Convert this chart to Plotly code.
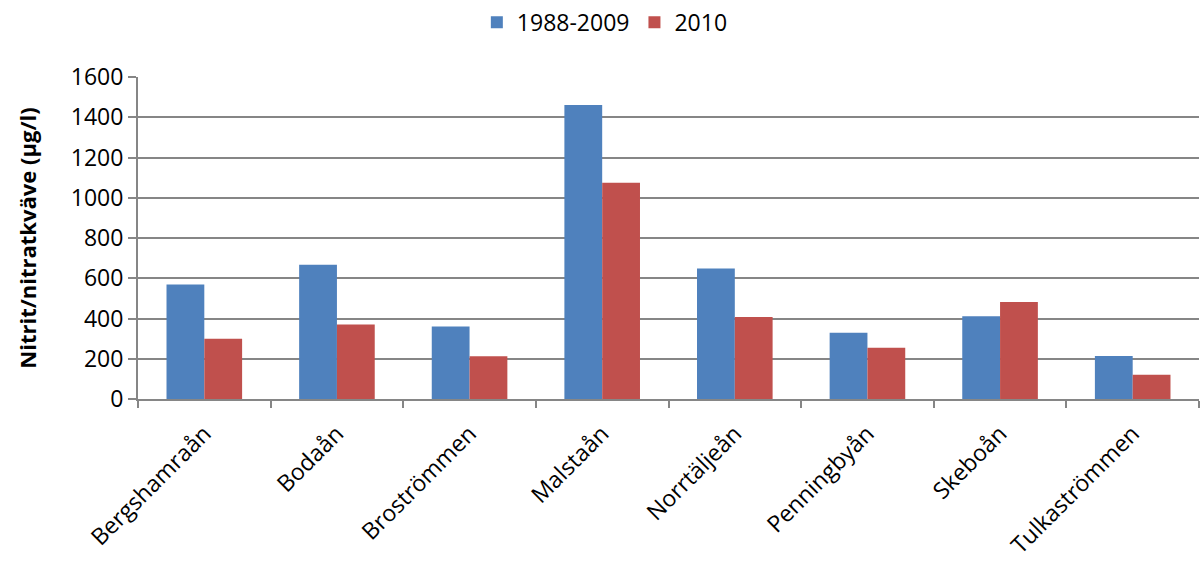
import plotly.graph_objects as go

categories = ["Bergshamraån", "Bodaån", "Broströmmen", "Malstaån",
              "Norrtäljeån", "Penningbyån", "Skeboån", "Tulkaströmmen"]
series_1988_2009 = [569, 667, 360, 1461, 648, 329, 411, 214]
series_2010 = [299, 370, 212, 1074, 408, 255, 482, 120]
y_ticks = [0, 200, 400, 600, 800, 1000, 1200, 1400, 1600]

FONT = "Open Sans"
GRID = "#868686"

fig = go.Figure()
fig.add_trace(go.Bar(name="1988-2009", x=categories, y=series_1988_2009,
                     marker=dict(color="#4F81BD", line=dict(width=0))))
fig.add_trace(go.Bar(name="2010", x=categories, y=series_2010,
                     marker=dict(color="#C0504D", line=dict(width=0))))

fig.update_layout(
    width=1200, height=561,
    margin=dict(l=138, r=1, t=77, b=160),
    barmode="group", bargap=0.43, bargroupgap=0,
    plot_bgcolor="white", paper_bgcolor="white",
    font=dict(family=FONT, size=23, color="black"),
    legend=dict(orientation="h", x=0.44, xanchor="center", y=1.17, yanchor="middle",
                font=dict(size=23), itemwidth=30, tracegroupgap=0),
    showlegend=True,
)
fig.update_xaxes(
    showline=True, linecolor=GRID, linewidth=2,
    ticks="outside", tickson="boundaries", ticklen=7, tickcolor=GRID, tickwidth=2,
    tickangle=-45, tickfont=dict(size=23), ticklabelstandoff=10,
    showgrid=False,
)
fig.update_yaxes(
    range=[0, 1600], tickvals=y_ticks,
    showline=True, linecolor=GRID, linewidth=2,
    ticks="outside", ticklen=8, tickcolor=GRID, tickwidth=2,
    showgrid=True, gridcolor=GRID, gridwidth=2,
    zeroline=False, tickfont=dict(size=23),
    title=dict(text="<b>Nitrit/nitratkväve (µg/l)</b>", font=dict(size=22), standoff=28),
)

fig.write_html("out.html")
